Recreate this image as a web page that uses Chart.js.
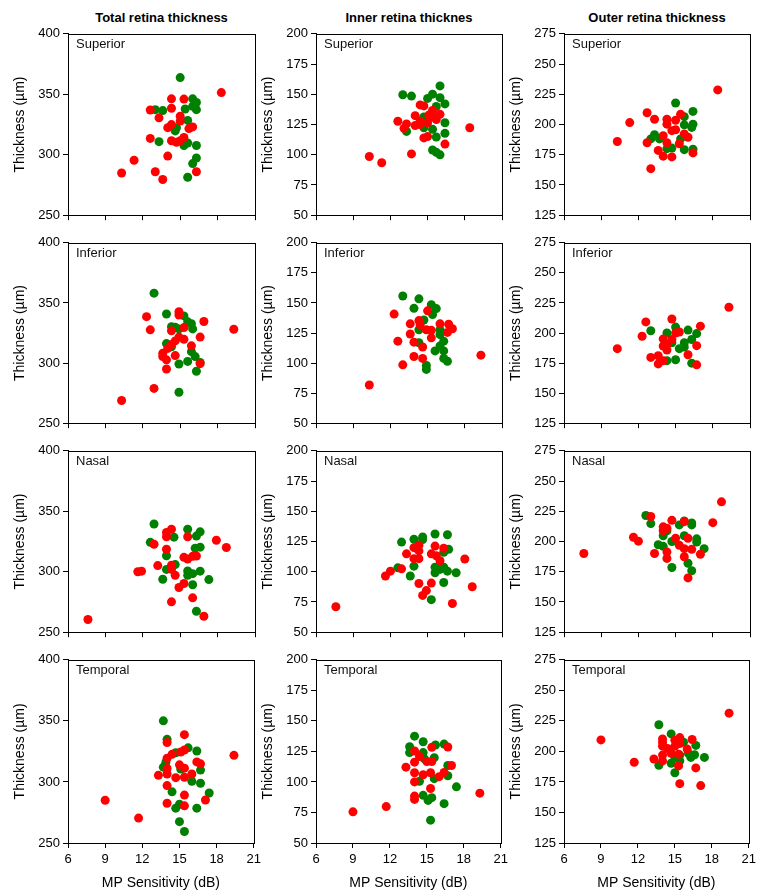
<!DOCTYPE html>
<html>
<head>
<meta charset="utf-8">
<script src="https://cdn.jsdelivr.net/npm/chart.js@4"></script>
<style>
  body { margin: 0; background: #fff; font-family: "Liberation Sans", Arial, sans-serif; }
  #wrap { position: relative; width: 768px; height: 896px; }
  canvas { position: absolute; }
  .head { position: absolute; top: 10px; width: 240px; font-size: 13px; font-weight: bold; text-align: center; color: #000; }
  .lab { position: absolute; font-size: 13px; color: #111; white-space: nowrap; }
</style>
</head>
<body>
<div id="wrap"></div>
<script>
// titles and axes
const columnTitles = ["Total retina thickness", "Inner retina thicknes", "Outer retina thickness"];
const regions = ["Superior", "Inferior", "Nasal", "Temporal"];
const xTicks = [6, 9, 12, 15, 18, 21];
const yTicksTotal = [250, 300, 350, 400];
const yTicksInner = [50, 75, 100, 125, 150, 175, 200];
const yTicksOuter = [125, 150, 175, 200, 225, 250, 275];

// [MP sensitivity (dB), thickness (µm)]
const totalSupGreen = [[15.0,363.8],[16.0,346.2],[16.3,343.2],[15.4,337.8],[13.0,337.3],[13.6,336.5],[16.0,340],[16.3,337.3],[15.6,328.4],[14.6,319.7],[13.3,310.8],[15.6,309.7],[15.3,307.6],[16.3,307.6],[16.3,297.3],[16.0,292.7],[15.6,281.4],[14.7,322.3]];
const totalSupRed = [[18.3,351.4],[14.3,346.2],[15.3,346],[12.6,337],[14.3,338.4],[13.3,330.5],[15.0,331.9],[15.0,327.8],[14.3,324.9],[14.0,322.4],[15.7,321.6],[16.0,323],[12.6,313.5],[14.3,311.6],[14.7,310.3],[15.0,311.6],[15.3,314.3],[14.0,298.9],[11.3,295.4],[10.3,284.9],[13.0,285.9],[13.6,279.5],[16.3,285.9]];
const innerSupGreen = [[16.0,156.9],[13.0,149.6],[13.7,148.5],[15.4,150.1],[15.0,146.6],[16.0,147.2],[16.4,142],[15.7,139.9],[14.7,131.2],[16.4,126.4],[13.3,119.3],[15.4,121],[16.4,117.7],[15.7,114.7],[15.4,103.9],[15.7,102],[16.0,99.9],[14.7,122.3]];
const innerSupRed = [[14.4,141.2],[14.7,140.4],[15.4,136.6],[16.0,133.4],[14.0,132.3],[15.1,132.8],[15.4,131.2],[12.6,127.7],[13.3,125.5],[14.4,127.7],[15.7,129.1],[13.1,121.8],[14.0,124.2],[14.4,125],[15.0,126.4],[14.7,113.9],[15.0,115],[16.4,108.8],[18.4,122.3],[10.3,98.5],[11.3,93.4],[13.7,100.7]];
const outerSupGreen = [[15.0,217.8],[16.4,210.8],[15.7,206.5],[16.4,200.3],[15.7,199.7],[16.3,197.6],[13.3,191.6],[13.0,188.1],[13.7,188.1],[15.4,188.1],[14.3,180],[14.7,180.5],[15.7,179.2],[16.4,179.5]];
const outerSupRed = [[18.4,228.6],[12.7,209.7],[11.3,201.6],[13.3,204.3],[14.3,204.3],[15.0,203.5],[15.4,208.4],[14.3,200.3],[14.7,194.9],[15.0,195.7],[14.0,190.8],[15.7,192.2],[16.0,189.5],[10.3,185.9],[12.7,184.9],[14.3,184.9],[15.3,184.1],[13.6,178.6],[14.0,173.8],[14.7,173.2],[16.4,176.5],[13.0,163.5]];

const totalInfGreen = [[12.9,358.1],[13.9,340.8],[15.3,339.2],[14.3,330.3],[14.6,329.7],[15.6,334.3],[15.9,332.7],[16.0,328.4],[14.9,328.4],[13.9,316.2],[14.3,313.5],[15.9,309.5],[16.2,305.4],[16.6,300.5],[15.6,301.4],[14.9,299.2],[16.3,293.2],[14.9,275.7]];
const totalInfRed = [[14.9,342.7],[14.9,340],[12.3,338.6],[16.9,334.6],[19.3,328.1],[12.6,327.6],[14.3,326.8],[15.3,329.5],[16.6,321.6],[14.9,321.6],[15.3,319.7],[14.6,318.4],[14.3,315.4],[14.0,312.2],[15.9,314.3],[13.6,308.1],[13.6,305.4],[14.6,306.2],[13.9,302.7],[13.9,295.1],[16.6,299.5],[12.9,278.9],[10.3,268.9]];
const innerInfGreen = [[13.0,155.8],[14.3,153.4],[13.9,145.5],[15.3,148.5],[15.7,145.3],[15.4,140.4],[14.7,135.8],[14.3,127.7],[16.0,127.7],[16.0,123.6],[16.3,118.2],[14.3,116.9],[16.0,114.2],[15.6,110.1],[16.3,110.1],[16.3,103.9],[16.6,101.5],[14.9,98],[14.9,94.7]];
const innerInfRed = [[15.0,143.4],[12.3,140.7],[13.6,132.6],[14.3,135.3],[14.4,131.8],[16.0,132.6],[16.7,132.3],[17.0,128.5],[16.6,125.5],[14.9,127.7],[15.3,127.2],[13.6,124.2],[15.3,121],[13.9,117.4],[12.6,118.2],[14.6,113.4],[13.9,105.5],[14.6,103.9],[13.0,98.5],[19.3,106.6],[10.3,81.8]];
const outerInfGreen = [[13.0,201.9],[14.3,200],[15.0,204.9],[16.0,202.4],[16.7,199.5],[16.3,194.6],[15.7,191.9],[15.3,187],[15.7,188.4],[14.3,177],[15.0,177.8],[16.3,174.9],[14.7,191.9]];
const outerInfRed = [[19.3,221.4],[12.6,209.2],[14.7,211.6],[17.0,205.7],[12.3,197.3],[15.3,200.8],[15.0,200],[14.0,195.1],[14.7,194.6],[14.3,190.5],[14.0,189.2],[14.3,185.9],[16.7,189.5],[10.3,187],[13.0,179.7],[13.6,181.1],[14.0,177],[13.6,174.3],[16.0,181.9],[16.7,173.5]];

const totalNasGreen = [[12.9,339.5],[15.6,335.1],[16.6,333],[16.3,329.5],[14.5,328.6],[12.6,324.3],[16.2,319.5],[16.6,320.3],[13.9,313.2],[14.6,305.9],[13.9,301.9],[15.6,300.6],[15.6,297],[16.0,298.4],[16.6,300.5],[13.6,293.8],[17.3,293.5],[16.0,289.2],[16.3,267.3]];
const totalNasRed = [[14.3,335.1],[13.9,332.4],[13.9,328.9],[15.6,328.9],[12.9,322.7],[17.9,326],[18.7,320],[13.9,318.6],[15.3,311.9],[15.6,310.5],[16.0,312.7],[16.3,313],[13.2,305.1],[14.3,305.4],[14.3,301.9],[14.6,297],[11.6,300],[11.9,300.5],[15.3,290.3],[14.9,287],[16.0,278.4],[14.3,275.1],[16.9,263.2],[7.6,260.5]];
const innerNasGreen = [[15.6,131.2],[16.6,130.6],[12.9,124.5],[13.9,126.9],[14.6,128.8],[14.6,126.6],[16.7,118.5],[16.3,116.1],[13.9,104.6],[12.6,103.2],[13.6,96.5],[15.6,103.8],[15.6,99.2],[16.0,101.9],[16.3,103.8],[16.6,100.5],[17.3,99.2],[16.3,91.1],[15.3,76.9]];
const innerNasRed = [[14.3,122],[13.9,119.9],[13.3,114.8],[14.3,117.2],[15.6,121.2],[16.3,119.4],[15.3,114.8],[15.7,113.2],[16.0,109.1],[13.9,110.8],[14.3,110.8],[18.0,110.5],[12.9,102.4],[12.0,100.5],[11.6,96.5],[14.3,90.3],[15.3,90.6],[14.9,84.4],[14.6,80.4],[18.6,87.6],[17.0,73.7],[7.6,71]];
const outerNasGreen = [[12.6,221.5],[13.0,214.8],[15.3,213.7],[15.7,217],[16.3,215.3],[16.3,213.7],[14.0,204.8],[14.3,208.9],[15.7,204.8],[16.7,202.2],[16.7,199.5],[14.7,200],[13.6,197.3],[14.0,196],[17.3,194.1],[16.0,182],[14.7,178.5],[16.3,175.8]];
const outerNasRed = [[18.7,232.8],[18.0,215.6],[13.0,220.7],[14.7,217.5],[15.7,216.4],[14.0,212.1],[14.0,208.9],[14.3,211],[11.6,203.5],[12.0,200.3],[15.0,202.7],[16.0,202.7],[15.3,196.8],[15.7,194.1],[16.3,193.5],[13.3,190.1],[14.3,191.4],[14.3,186],[15.7,187.4],[17.0,189.5],[7.6,190.1],[16.0,169.9]];

const totalTemGreen = [[13.7,350],[14.0,334.9],[15.7,327.9],[16.4,325.3],[14.7,323.9],[13.9,315.9],[13.7,312.1],[15.1,310.5],[16.7,309.7],[16.0,300.5],[16.7,298.9],[17.4,290.9],[14.4,291.9],[15.0,281.7],[14.7,278.5],[16.4,278.5],[15.0,267.5],[15.4,259.4]];
const totalTemRed = [[15.4,338.7],[14.0,332.3],[14.4,322.6],[15.1,324.5],[15.4,326.1],[14.0,319.4],[15.0,314],[15.4,311.3],[16.4,316.4],[16.7,314.8],[14.0,311],[14.0,306.5],[13.3,305.4],[14.7,303.5],[15.4,303.8],[16.0,306.5],[14.0,297],[15.4,289.2],[14.0,282.5],[15.4,280.4],[17.1,285.2],[19.4,321.8],[9.0,285],[11.7,270.4]];
const innerTemGreen = [[14.0,137.5],[14.7,132.9],[13.6,128.8],[13.6,124],[15.7,130.2],[16.4,131],[14.7,124],[15.6,119.9],[14.8,118.9],[16.7,113.5],[16.7,105.1],[15.6,102.7],[14.4,100.5],[17.4,96],[14.7,89],[15.1,84.9],[15.4,87.1],[16.4,82.2],[15.3,68.7]];
const innerTemRed = [[15.4,128.3],[16.7,128.6],[14.0,125.3],[14.4,120.8],[14.0,116.2],[13.3,112.1],[14.0,107.5],[15.0,116.7],[15.4,116.7],[15.3,107.5],[14.7,105.9],[16.0,104.3],[16.4,107.8],[17.0,113.5],[14.0,100],[15.3,94.6],[14.0,88.4],[14.0,85.7],[19.3,90.8],[9.0,75.5],[11.7,79.8]];
const outerTemGreen = [[13.7,221.8],[14.7,214.3],[15.7,207.5],[16.7,204.9],[17.4,195.1],[16.6,197.3],[16.3,195.1],[15.4,197],[15.0,195.1],[14.7,190.3],[13.7,188.7],[15.4,192.2],[15.0,182.5],[16.1,198.4]];
const outerTemRed = [[19.4,231.3],[9.0,209.4],[11.7,191.1],[13.3,193.8],[14.0,210.2],[14.0,207.3],[14.0,204.3],[14.4,202.4],[15.0,209.2],[15.4,211.3],[15.4,206.5],[16.4,209.7],[16.0,201.9],[15.0,204.3],[14.0,197],[14.0,192.2],[15.3,197.6],[15.3,188.1],[16.7,186.5],[14.7,198.4],[15.4,173.6],[17.1,172]];

// panel grid [row][col] -> [green, red]
const panels = [
  [[totalSupGreen, totalSupRed], [innerSupGreen, innerSupRed], [outerSupGreen, outerSupRed]],
  [[totalInfGreen, totalInfRed], [innerInfGreen, innerInfRed], [outerInfGreen, outerInfRed]],
  [[totalNasGreen, totalNasRed], [innerNasGreen, innerNasRed], [outerNasGreen, outerNasRed]],
  [[totalTemGreen, totalTemRed], [innerTemGreen, innerTemRed], [outerTemGreen, outerTemRed]]
];
const yTickSets = [yTicksTotal, yTicksInner, yTicksOuter];

// plot area edges in page pixels
const colLeft = [68, 316, 564];
const colRight = [255, 502, 750];
const rowTop = [31, 240, 448, 657];
const rowBottom = [218, 426, 635, 843];
const yAxisW = 60;

const wrap = document.getElementById("wrap");
const fontName = "'Liberation Sans', Arial, sans-serif";

// box round the plot area
const frame = {
  id: "frame",
  afterDraw(chart) {
    const a = chart.chartArea;
    const c = chart.ctx;
    c.save();
    c.strokeStyle = "#000";
    c.lineWidth = 1;
    c.strokeRect(Math.round(a.left) + 0.5, Math.round(a.top) + 0.5, Math.round(a.right - a.left), Math.round(a.bottom - a.top));
    c.restore();
  }
};

for (let c = 0; c < 3; c++) {
  const h = document.createElement("div");
  h.className = "head";
  h.textContent = columnTitles[c];
  h.style.left = ((colLeft[c] + colRight[c]) / 2 - 120) + "px";
  wrap.appendChild(h);
}

for (let r = 0; r < 4; r++) {
  for (let c = 0; c < 3; c++) {
    const last = r === 3;
    const xH = last ? 51 : 8;
    const cv = document.createElement("canvas");
    const w = colRight[c] - colLeft[c] + yAxisW + 10;
    const hgt = rowBottom[r] - rowTop[r] + 8 + xH;
    cv.width = w;
    cv.height = hgt;
    cv.style.left = (colLeft[c] - yAxisW) + "px";
    cv.style.top = (rowTop[r] - 8) + "px";
    wrap.appendChild(cv);

    const yt = yTickSets[c];
    const toPts = (arr) => arr.map(p => ({ x: p[0], y: p[1] }));

    new Chart(cv, {
      type: "scatter",
      data: {
        datasets: [
          { data: toPts(panels[r][c][1]), backgroundColor: "#ff0000", borderWidth: 0, pointRadius: 4.5, order: 0 },
          { data: toPts(panels[r][c][0]), backgroundColor: "#008000", borderWidth: 0, pointRadius: 4.5, order: 1 }
        ]
      },
      options: {
        responsive: false,
        animation: false,
        events: [],
        layout: { padding: { left: 0, right: 10, top: 8, bottom: 0 } },
        plugins: { legend: { display: false }, tooltip: { enabled: false } },
        scales: {
          x: {
            type: "linear",
            min: xTicks[0],
            max: xTicks[xTicks.length - 1],
            afterBuildTicks: (s) => { s.ticks = xTicks.map(v => ({ value: v })); },
            afterFit: (s) => { s.height = xH; },
            grid: { drawOnChartArea: false, drawTicks: true, tickLength: 5, color: "#000" },
            border: { display: true, color: "#000", width: 1 },
            ticks: { display: last, color: "#000", padding: 4, font: { family: fontName, size: 13 } },
            title: {
              display: last,
              text: "MP Sensitivity (dB)",
              color: "#000",
              padding: { top: 0, bottom: 2 },
              font: { family: fontName, size: 14 }
            }
          },
          y: {
            type: "linear",
            min: yt[0],
            max: yt[yt.length - 1],
            afterBuildTicks: (s) => { s.ticks = yt.map(v => ({ value: v })); },
            afterFit: (s) => { s.width = yAxisW; },
            grid: { drawOnChartArea: false, drawTicks: true, tickLength: 5, color: "#000" },
            border: { display: true, color: "#000", width: 1 },
            ticks: { color: "#000", padding: 3, font: { family: fontName, size: 13 } },
            title: {
              display: true,
              text: "Thickness (µm)",
              color: "#000",
              padding: { top: 4, bottom: 0 },
              font: { family: fontName, size: 14 }
            }
          }
        }
      },
      plugins: [frame]
    });

    const lab = document.createElement("div");
    lab.className = "lab";
    lab.textContent = regions[r];
    lab.style.left = (colLeft[c] + 8) + "px";
    lab.style.top = (rowTop[r] + 5) + "px";
    wrap.appendChild(lab);
  }
}
</script>
</body>
</html>
